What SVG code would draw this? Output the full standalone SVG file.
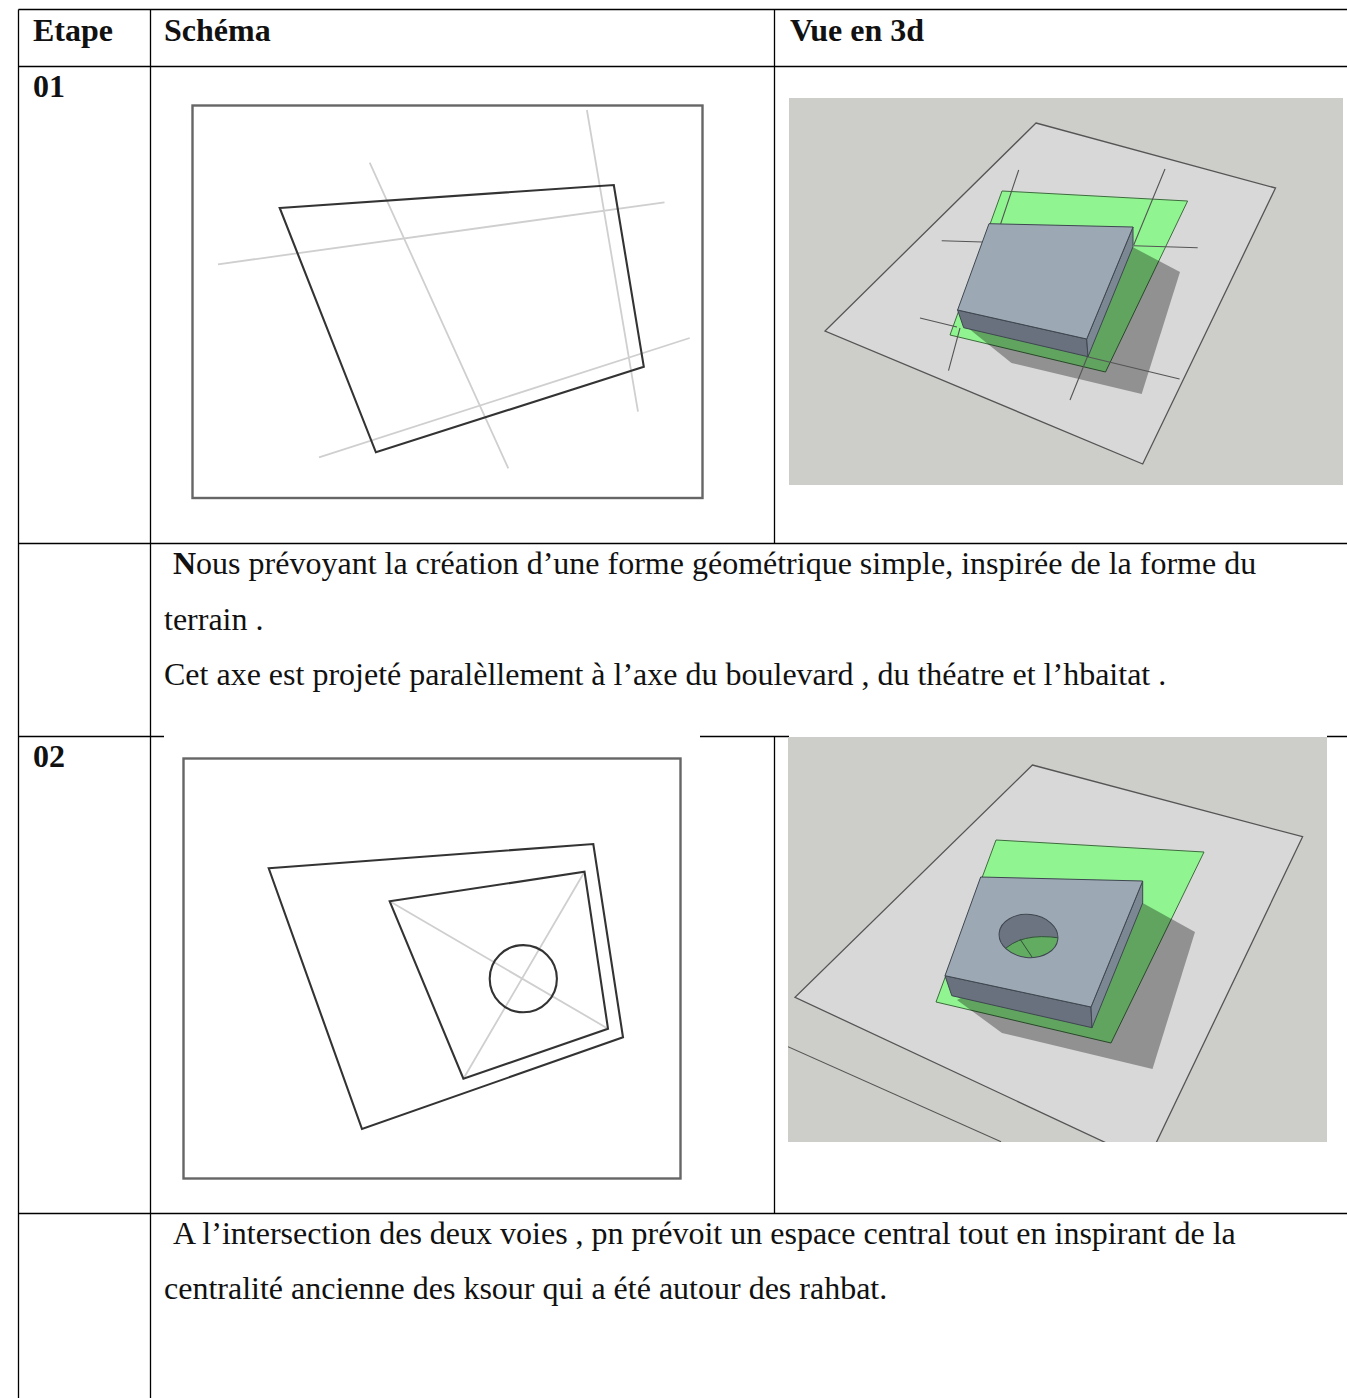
<svg xmlns="http://www.w3.org/2000/svg" width="1347" height="1398" viewBox="0 0 1347 1398">
<style>
text{font-family:"Liberation Serif","Times New Roman",serif;fill:#111}
.h{font-size:32px;font-weight:bold}
.b{font-size:32px}
.t{stroke:#000;stroke-width:1.3;fill:none}
.frame{fill:none;stroke:#666;stroke-width:2.4}
.q{fill:none;stroke:#333;stroke-width:2.1;stroke-linejoin:miter}
.g{stroke:#cfcfcf;stroke-width:1.8;fill:none}
.e{stroke:#555;stroke-width:1.1;fill:none}
.pl{fill:#d8d8d8;stroke:#555;stroke-width:1.3}
.gr{fill:#90f590;stroke:#3d6b3d;stroke-width:1}
.sh{fill:#000;opacity:.33}
.top{fill:#9ca9b4;stroke:#3f4650;stroke-width:1}
.fr{fill:#68717d;stroke:#3f4650;stroke-width:1}
.si{fill:#7c8794;stroke:#3f4650;stroke-width:1}
</style>
<defs>
<clipPath id="c2"><rect x="788" y="737" width="539" height="405"/></clipPath>
<clipPath id="hole"><ellipse cx="1028.5" cy="936" rx="29.5" ry="21.5" transform="rotate(6 1028.5 936)"/></clipPath>
</defs>
<rect width="1347" height="1398" fill="#fff"/>
<g id="table-grid">
<path class="t" d="M18.5 9.5H1347M18.5 66.5H1347M18.5 543.5H1347M18.5 736.5H164M700 736.5H789M1327 736.5H1347M18.5 1213.5H1347M18.5 9.5V1398M150.5 9.5V1398M774.5 9.5V543.5M774.5 737V1213.5"/>
</g>
<g id="headers">
<text class="h" x="33" y="41">Etape</text>
<text class="h" x="164" y="41">Schéma</text>
<text class="h" x="790" y="41">Vue en 3d</text>
<text class="h" x="33" y="97">01</text>
<text class="h" x="33" y="766.5">02</text>
</g>
<g id="schema-01">
<rect class="frame" x="192.5" y="105.5" width="510" height="392.5"/>
<path class="g" d="M369.7 162.7L508.3 468.3M586.9 110L638 411.7M218 264.3L664.5 202.3M319 457.3L689.7 338"/>
<polygon class="q" points="279.7,208 613.8,185 643.8,366.7 375.9,452.3"/>
</g>
<g id="vue-01">
<rect x="789" y="98" width="554" height="387" fill="#cdcec9"/>
<polygon class="pl" points="1036,123 1275.5,188 1142.7,464 825,331"/>
<polygon class="gr" points="1002,191 1187.6,201 1105.5,372 950,335"/>
<polygon class="sh" points="1132.6,247 1180,272 1141.7,394 1011.5,363 968,328"/>
<path class="e" d="M1018.7 170L1000.6 224M1165 169L1133.7 245M941.7 240.7L982.5 242M1133.7 245.7L1197.7 247.7M920 318L957 327M1087.4 356.7L1179.6 379M960 328L948.5 370.7M1087.4 356.7L1070 400"/>
<polygon class="fr" points="957.6,310 1086.7,339 1088,356.7 963.7,327.7"/>
<polygon class="si" points="1133,227 1086.7,339 1088,356.7 1133,246.7"/>
<polygon class="top" points="989,223.7 1133,227 1086.7,339 957.6,310"/>
</g>
<g id="texte-01">
<text class="b" x="173" y="574"><tspan font-weight="bold">N</tspan>ous prévoyant la création d’une forme géométrique simple, inspirée de la forme du</text>
<text class="b" x="164" y="630">terrain .</text>
<text class="b" x="164" y="685">Cet axe est projeté paralèllement à l’axe du boulevard , du théatre et l’hbaitat .</text>
</g>
<g id="schema-02">
<rect class="frame" x="183.5" y="758.5" width="497" height="420"/>
<path class="g" d="M389.7 901.3L608 1028.7M584.5 871.7L463.4 1078.7"/>
<polygon class="q" points="268.7,868.3 593.3,844 623,1037.3 362,1129"/>
<polygon class="q" points="389.7,901.3 584.5,871.7 608,1028.7 463.4,1078.7"/>
<circle class="q" cx="523.3" cy="978.7" r="33.6"/>
</g>
<g id="vue-02">
<rect x="788" y="737" width="539" height="405" fill="#cdcec9"/>
<g clip-path="url(#c2)">
<polygon class="pl" points="1032.4,765 1302.6,836.7 1147,1162 795,997.3"/>
<path class="e" d="M788 1046.7L1001 1141.7"/>
<polygon class="gr" points="996,840 1204,852 1111,1043 936,1002"/>
<polygon class="sh" points="1142.7,903 1195,932 1152.5,1069 1002,1033 957,1000"/>
<polygon class="fr" points="945,975.7 1091,1007 1092,1027.7 951.8,995.7"/>
<polygon class="si" points="1142.7,881 1091,1007 1092,1027.7 1142.7,903"/>
<polygon class="top" points="980.7,877 1142.7,881 1091,1007 945,975.7"/>
<ellipse cx="1028.5" cy="936" rx="29.5" ry="21.5" transform="rotate(6 1028.5 936)" fill="#6b7480"/>
<g clip-path="url(#hole)">
<path d="M1002 952Q1020 932 1060 938L1060 965L1002 965Z" fill="#62ac62" stroke="#33503a" stroke-width="1"/>
<path d="M1020 939L1032 957" stroke="#33503a" stroke-width="1"/>
</g>
<ellipse cx="1028.5" cy="936" rx="29.5" ry="21.5" transform="rotate(6 1028.5 936)" fill="none" stroke="#3f4650" stroke-width="1"/>
</g>
</g>
<g id="texte-02">
<text class="b" x="173" y="1244">A l’intersection des deux voies , pn prévoit un espace central tout en inspirant de la</text>
<text class="b" x="164" y="1299">centralité ancienne des ksour qui a été autour des rahbat.</text>
</g>
</svg>
